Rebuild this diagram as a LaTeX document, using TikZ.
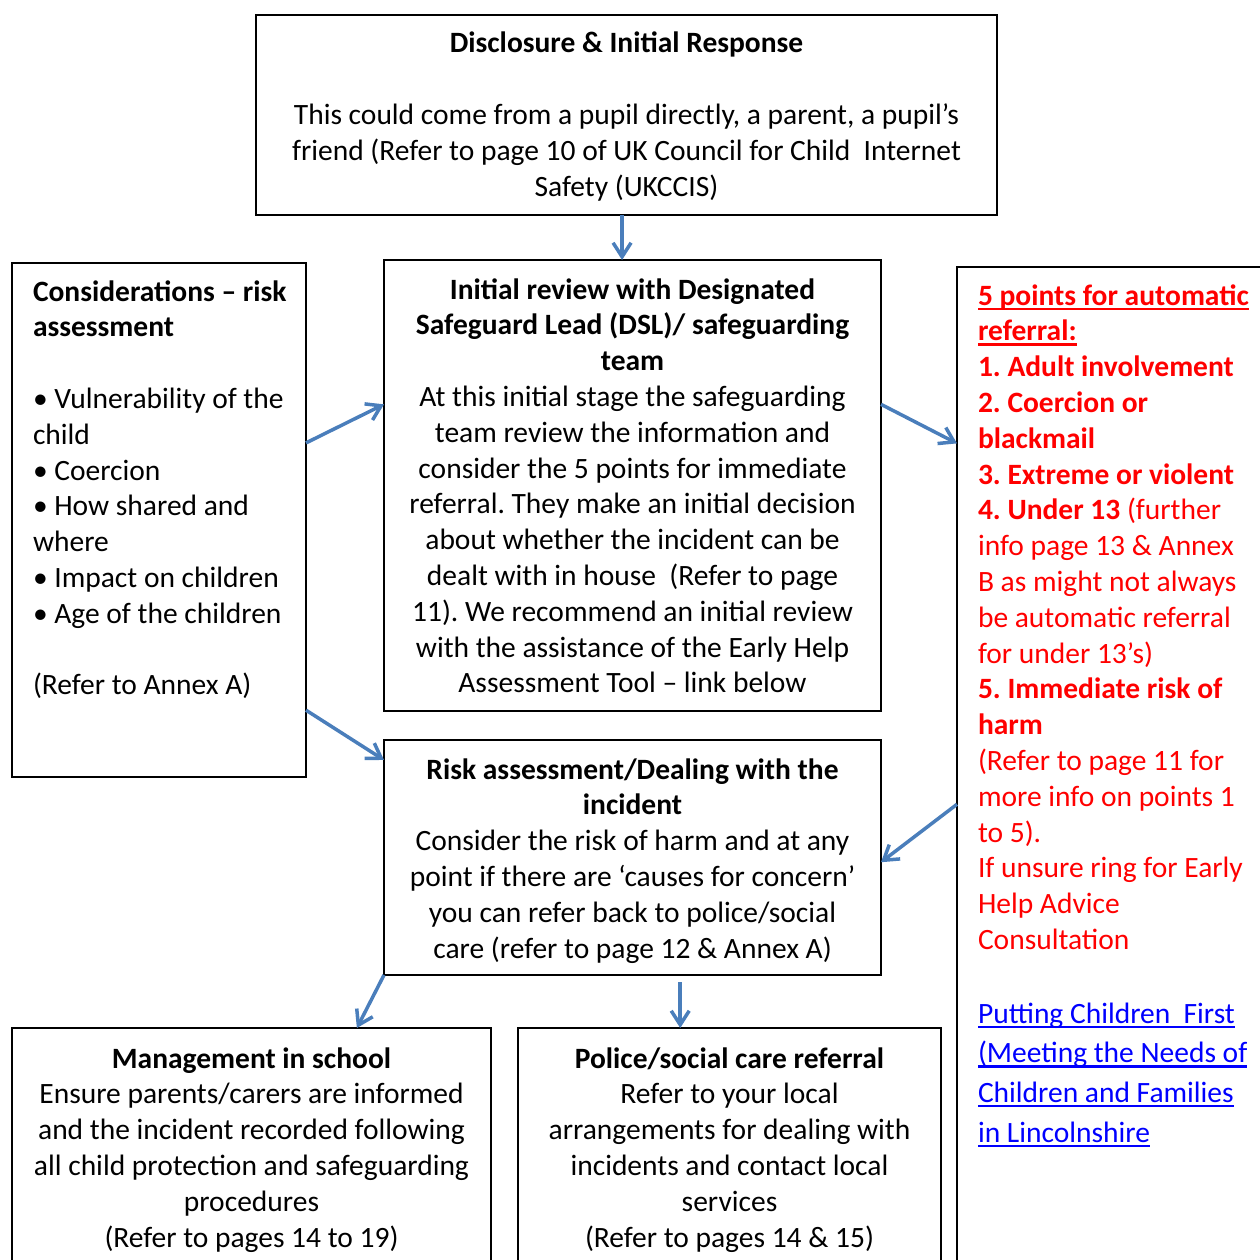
\documentclass[tikz,border=0pt]{standalone}
\usepackage{fontspec}
\setmainfont{Carlito}
\usetikzlibrary{arrows.meta,calc}
\definecolor{arrowblue}{HTML}{4A7EBB}
\definecolor{ptred}{HTML}{FF0000}
\definecolor{linkblue}{HTML}{0000FF}
\newcommand{\ulinetext}[1]{\leavevmode\setbox0\hbox{#1}\rlap{\rule[-5pt]{\wd0}{2.5pt}}\box0}
\newcommand{\boxfont}{\fontsize{29.5}{35.8}\selectfont}
\frenchspacing

\begin{document}
\begin{tikzpicture}[x=1pt,y=-1pt,inner sep=0pt,outer sep=0pt,
  >={Straight Barb[length=14pt,width=18pt]},
  panel/.style={draw,line width=2pt,rectangle},
  txt/.style={anchor=base,align=center,font=\boxfont,execute at begin node={\spaceskip=\fontdimen2\font\relax\xspaceskip=\spaceskip}},
  flow/.style={->,draw=arrowblue,line width=3.5pt}]
\clip (0,0) rectangle (1260,1260);
\node (top) at (626.5,115) [panel,minimum width=741pt,minimum height=200pt] {};
\node (review) at (632.5,485.5) [panel,minimum width=497pt,minimum height=451pt] {};
\node (left) at (159,520) [panel,minimum width=294pt,minimum height=514pt] {};
\node (right) at (1116,771) [panel,minimum width=318pt,minimum height=1008pt] {};
\node (risk) at (632.5,857.5) [panel,minimum width=497pt,minimum height=235pt] {};
\node (mgmt) at (251.5,1151.5) [panel,minimum width=479pt,minimum height=247pt] {};
\node (police) at (729.5,1151.5) [panel,minimum width=423pt,minimum height=247pt] {};

\node (toptxt) at (626.5,53) [txt,text width=720pt] {\textbf{Disclosure \& Initial Response}\\[36pt]
This could come from a pupil directly, a parent, a pupil’s\\
friend (Refer to page 10 of UK Council for Child\ \ Internet\\
Safety (UKCCIS)};
\node (reviewtxt) at (632.5,299) [txt,text width=480pt] {\textbf{Initial review with Designated}\\
\textbf{Safeguard Lead (DSL)/ safeguarding}\\
\textbf{team}\\
At this initial stage the safeguarding\\
team review the information and\\
consider the 5 points for immediate\\
referral. They make an initial decision\\
about whether the incident can be\\
dealt with in house\ \ (Refer to page\\
11). We recommend an initial review\\
with the assistance of the Early Help\\
Assessment Tool -- link below};
\node (lefttxt) at (33,301) [txt,align=left,anchor=base west,text width=272pt] {\textbf{Considerations -- risk}\\
\textbf{assessment}\\[35.8pt]
• Vulnerability of the\\
child\\
• Coercion\\
• How shared and\\
where\\
• Impact on children\\
• Age of the children\\[35.8pt]
(Refer to Annex A)};
\node (pointstxt) at (978,305) [txt,align=left,anchor=base west,text width=300pt,text=ptred] {\textbf{\ulinetext{5 points for automatic}}\\
\textbf{\ulinetext{referral:}}\\
\textbf{1. Adult involvement}\\
\textbf{2. Coercion or}\\
\textbf{blackmail}\\
\textbf{3. Extreme or violent}\\
\textbf{4. Under 13} (further\\
info page 13 \& Annex\\
B as might not always\\
be automatic referral\\
for under 13’s)\\
\textbf{5. Immediate risk of}\\
\textbf{harm}\\
(Refer to page 11 for\\
more info on points 1\\
to 5).\\
If unsure ring for Early\\
Help Advice\\
Consultation};
\node (linktxt) at (978,1023) [txt,align=left,anchor=base west,text width=300pt,text=linkblue,font=\fontsize{29.5}{39.7}\selectfont] {\ulinetext{Putting Children\ \ First}\\
\ulinetext{(Meeting the Needs of}\\
\ulinetext{Children and Families}\\
\ulinetext{in Lincolnshire}};
\node (risktxt) at (632.5,779) [txt,text width=480pt] {\textbf{Risk assessment/Dealing with the}\\
\textbf{incident}\\
Consider the risk of harm and at any\\
point if there are ‘causes for concern’\\
you can refer back to police/social\\
care (refer to page 12 \& Annex A)};
\node (mgmttxt) at (251.5,1068) [txt,text width=465pt] {\textbf{Management in school}\\
Ensure parents/carers are informed\\
and the incident recorded following\\
all child protection and safeguarding\\
procedures\\
(Refer to pages 14 to 19)};
\node (policetxt) at (729.5,1068) [txt,text width=410pt] {\textbf{Police/social care referral}\\
Refer to your local\\
arrangements for dealing with\\
incidents and contact local\\
services\\
(Refer to pages 14 \& 15)};

\draw[flow] ($(top.south west)!.494!(top.south east)$) coordinate (t) -- (t |- review.north);
\draw[flow] ($(left.north east)!.35!(left.south east)$) -- ($(review.north west)!.32!(review.south west)$);
\draw[flow] ($(left.north east)!.87!(left.south east)$) -- ($(risk.north west)!.085!(risk.south west)$);
\draw[flow] ($(review.north east)!.32!(review.south east)$) -- ($(right.north west)!.175!(right.south west)$);
\draw[flow] ($(right.north west)!.533!(right.south west)$) -- ($(risk.north east)!.52!(risk.south east)$);
\draw[flow] (risk.south west) -- ($(mgmt.north west)!.72!(mgmt.north east)$);
\draw[flow,shorten <=7pt] ($(risk.south west)!.596!(risk.south east)$) coordinate (r) -- (r |- police.north);
\end{tikzpicture}
\end{document}
